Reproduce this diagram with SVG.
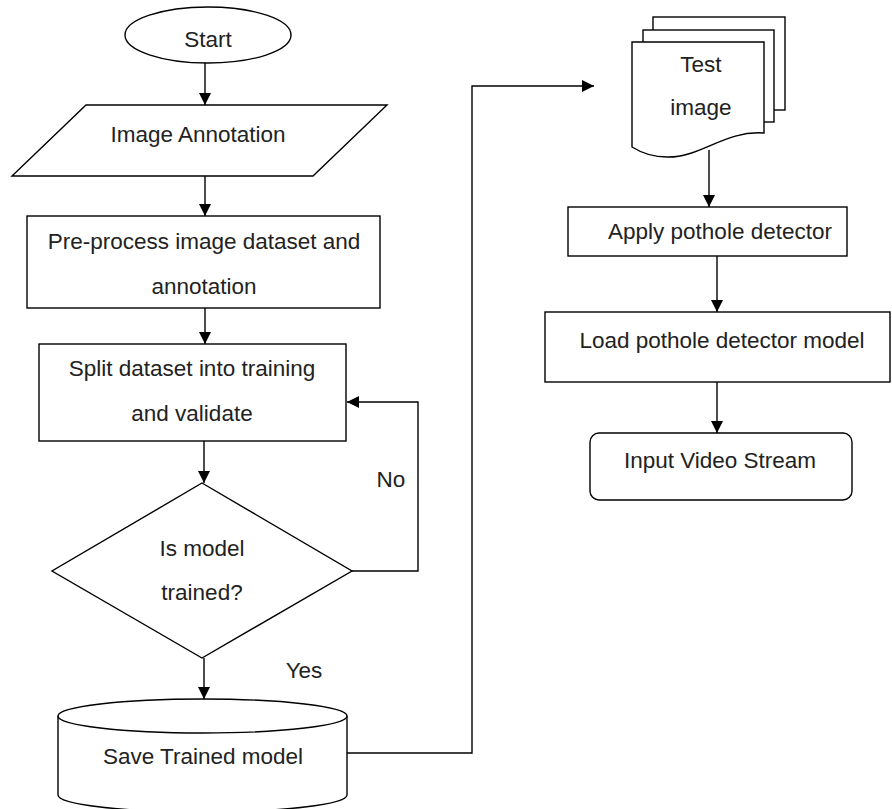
<svg xmlns="http://www.w3.org/2000/svg" width="892" height="809" viewBox="0 0 892 809">
<style>
.s{fill:#fff;stroke:#000;stroke-width:1.4}
.t{font-family:"Liberation Sans",Arial,sans-serif;font-size:22.5px;fill:#222;text-anchor:middle}
.c{fill:none;stroke:#000;stroke-width:1.4}
</style>
<defs>
<marker id="ah" markerUnits="userSpaceOnUse" markerWidth="12" markerHeight="12" refX="12" refY="6" orient="auto">
<path d="M0,0 L12,6 L0,12 Z" fill="#000"/>
</marker>
</defs>
<rect width="892" height="809" fill="#fff"/>
<g id="connectors">
<path class="c" d="M205,63 V105" marker-end="url(#ah)"/>
<path class="c" d="M205,176 V216" marker-end="url(#ah)"/>
<path class="c" d="M205,308 V344" marker-end="url(#ah)"/>
<path class="c" d="M204,441 V483" marker-end="url(#ah)"/>
<path class="c" d="M204,658 V699" marker-end="url(#ah)"/>
<path class="c" d="M352,571 H418 V402 H347" marker-end="url(#ah)"/>
<path class="c" d="M347,753 H472 V86 H594" marker-end="url(#ah)"/>
<path class="c" d="M709,150 V207" marker-end="url(#ah)"/>
<path class="c" d="M717,256 V312" marker-end="url(#ah)"/>
<path class="c" d="M717,382 V433" marker-end="url(#ah)"/>
</g>
<g id="start">
<ellipse class="s" cx="208" cy="35" rx="83" ry="28"/>
<text class="t" x="208" y="47">Start</text>
</g>
<g id="annotation">
<polygon class="s" points="86,105 387,105 313,176 12,176"/>
<text class="t" x="198" y="142">Image Annotation</text>
</g>
<g id="preprocess">
<rect class="s" x="27" y="216" width="353" height="92"/>
<text class="t" x="204" y="249">Pre-process image dataset and</text>
<text class="t" x="204" y="294">annotation</text>
</g>
<g id="split">
<rect class="s" x="39" y="344" width="307" height="97"/>
<text class="t" x="192" y="376">Split dataset into training</text>
<text class="t" x="192" y="421">and validate</text>
</g>
<g id="decision">
<polygon class="s" points="202,483 352,571 202,658 52,571"/>
<text class="t" x="202" y="556">Is model</text>
<text class="t" x="202" y="600">trained?</text>
</g>
<text class="t" x="391" y="487">No</text>
<text class="t" x="304" y="678">Yes</text>
<g id="save">
<path class="s" d="M58,716 V795 A144.5,17 0 0 0 347,795 V716"/>
<ellipse class="s" cx="202.5" cy="716" rx="144.5" ry="17"/>
<text class="t" x="203" y="764">Save Trained model</text>
</g>
<g id="testimage">
<rect class="s" x="653" y="17" width="132" height="93"/>
<rect class="s" x="643" y="30" width="131" height="92"/>
<path class="s" d="M632,42 H764 V133 C725,130 700,158 667,157 C650,157 640,152 632,147 Z"/>
<text class="t" x="701" y="72">Test</text>
<text class="t" x="701" y="115">image</text>
</g>
<g id="apply">
<rect class="s" x="568" y="207" width="279" height="49"/>
<text class="t" x="720" y="239">Apply pothole detector</text>
</g>
<g id="load">
<rect class="s" x="545" y="312" width="345" height="70"/>
<text class="t" x="722" y="348">Load pothole detector model</text>
</g>
<g id="input">
<rect class="s" x="590" y="433" width="262" height="67" rx="9"/>
<text class="t" x="720" y="468">Input Video Stream</text>
</g>
</svg>
